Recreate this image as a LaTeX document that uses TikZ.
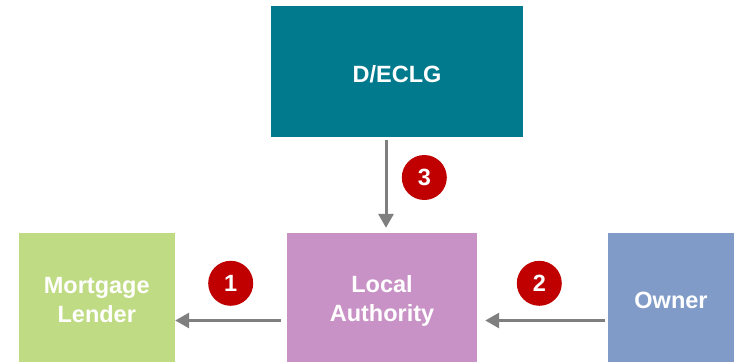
\documentclass[tikz,border=0pt]{standalone}
\usepackage{fontspec}
\setmainfont{Liberation Sans}
\usetikzlibrary{arrows.meta,calc}
\definecolor{teal1}{HTML}{007A8C}
\definecolor{green1}{HTML}{BFDB84}
\definecolor{pink1}{HTML}{C892C6}
\definecolor{blue1}{HTML}{819BC8}
\definecolor{red1}{HTML}{C00000}
\definecolor{gray1}{HTML}{7F7F7F}
\begin{document}
\begin{tikzpicture}[x=1pt,y=-1pt,
  box/.style={rectangle,inner sep=0pt,draw=none},
  txt/.style={inner sep=0pt,text=white,align=center,
    font=\fontsize{23.5}{29}\selectfont\bfseries},
  badge/.style={circle,fill=red1,inner sep=0pt,minimum size=45pt,text=white,
    font=\fontsize{23.5}{28}\selectfont\bfseries},
  arr/.style={draw=gray1,line width=3pt,-{Triangle[width=15pt,length=14pt]}}]
\useasboundingbox (0,0) rectangle (734,362);
\node[box,fill=teal1,minimum width=252pt,minimum height=130.5pt] (dec) at (397,71.25) {};
\node[box,fill=green1,minimum width=156.5pt,minimum height=129pt] (ml) at (96.75,297.5) {};
\node[box,fill=pink1,minimum width=190pt,minimum height=129pt] (la) at (382,297.5) {};
\node[box,fill=blue1,minimum width=126pt,minimum height=129pt] (ow) at (671,297.5) {};
\node[txt] (tdec) at ($(dec.center)+(0,3)$) {D/ECLG};
\node[txt] (tml) at ($(ml.center)+(0,3)$) {Mortgage\\Lender};
\node[txt] (tla) at ($(la.center)+(0,3)$) {Local\\Authority};
\node[txt] (tow) at ($(ow.center)+(0,3)$) {Owner};
\node[badge] (b3) at (424.3,177.5) {3};
\node[badge] (b1) at (230.7,283.3) {1};
\node[badge] (b2) at (539.3,283.3) {2};
\draw[arr] ($(dec.south)+(-11,3)$) -- ($(la.north)+(4,-5)$);
\draw[arr] ($(la.west)+(-6,23)$) -- ($(ml.east)+(0,23)$);
\draw[arr] ($(ow.west)+(-3,23)$) -- ($(la.east)+(8,23)$);
\end{tikzpicture}
\end{document}
